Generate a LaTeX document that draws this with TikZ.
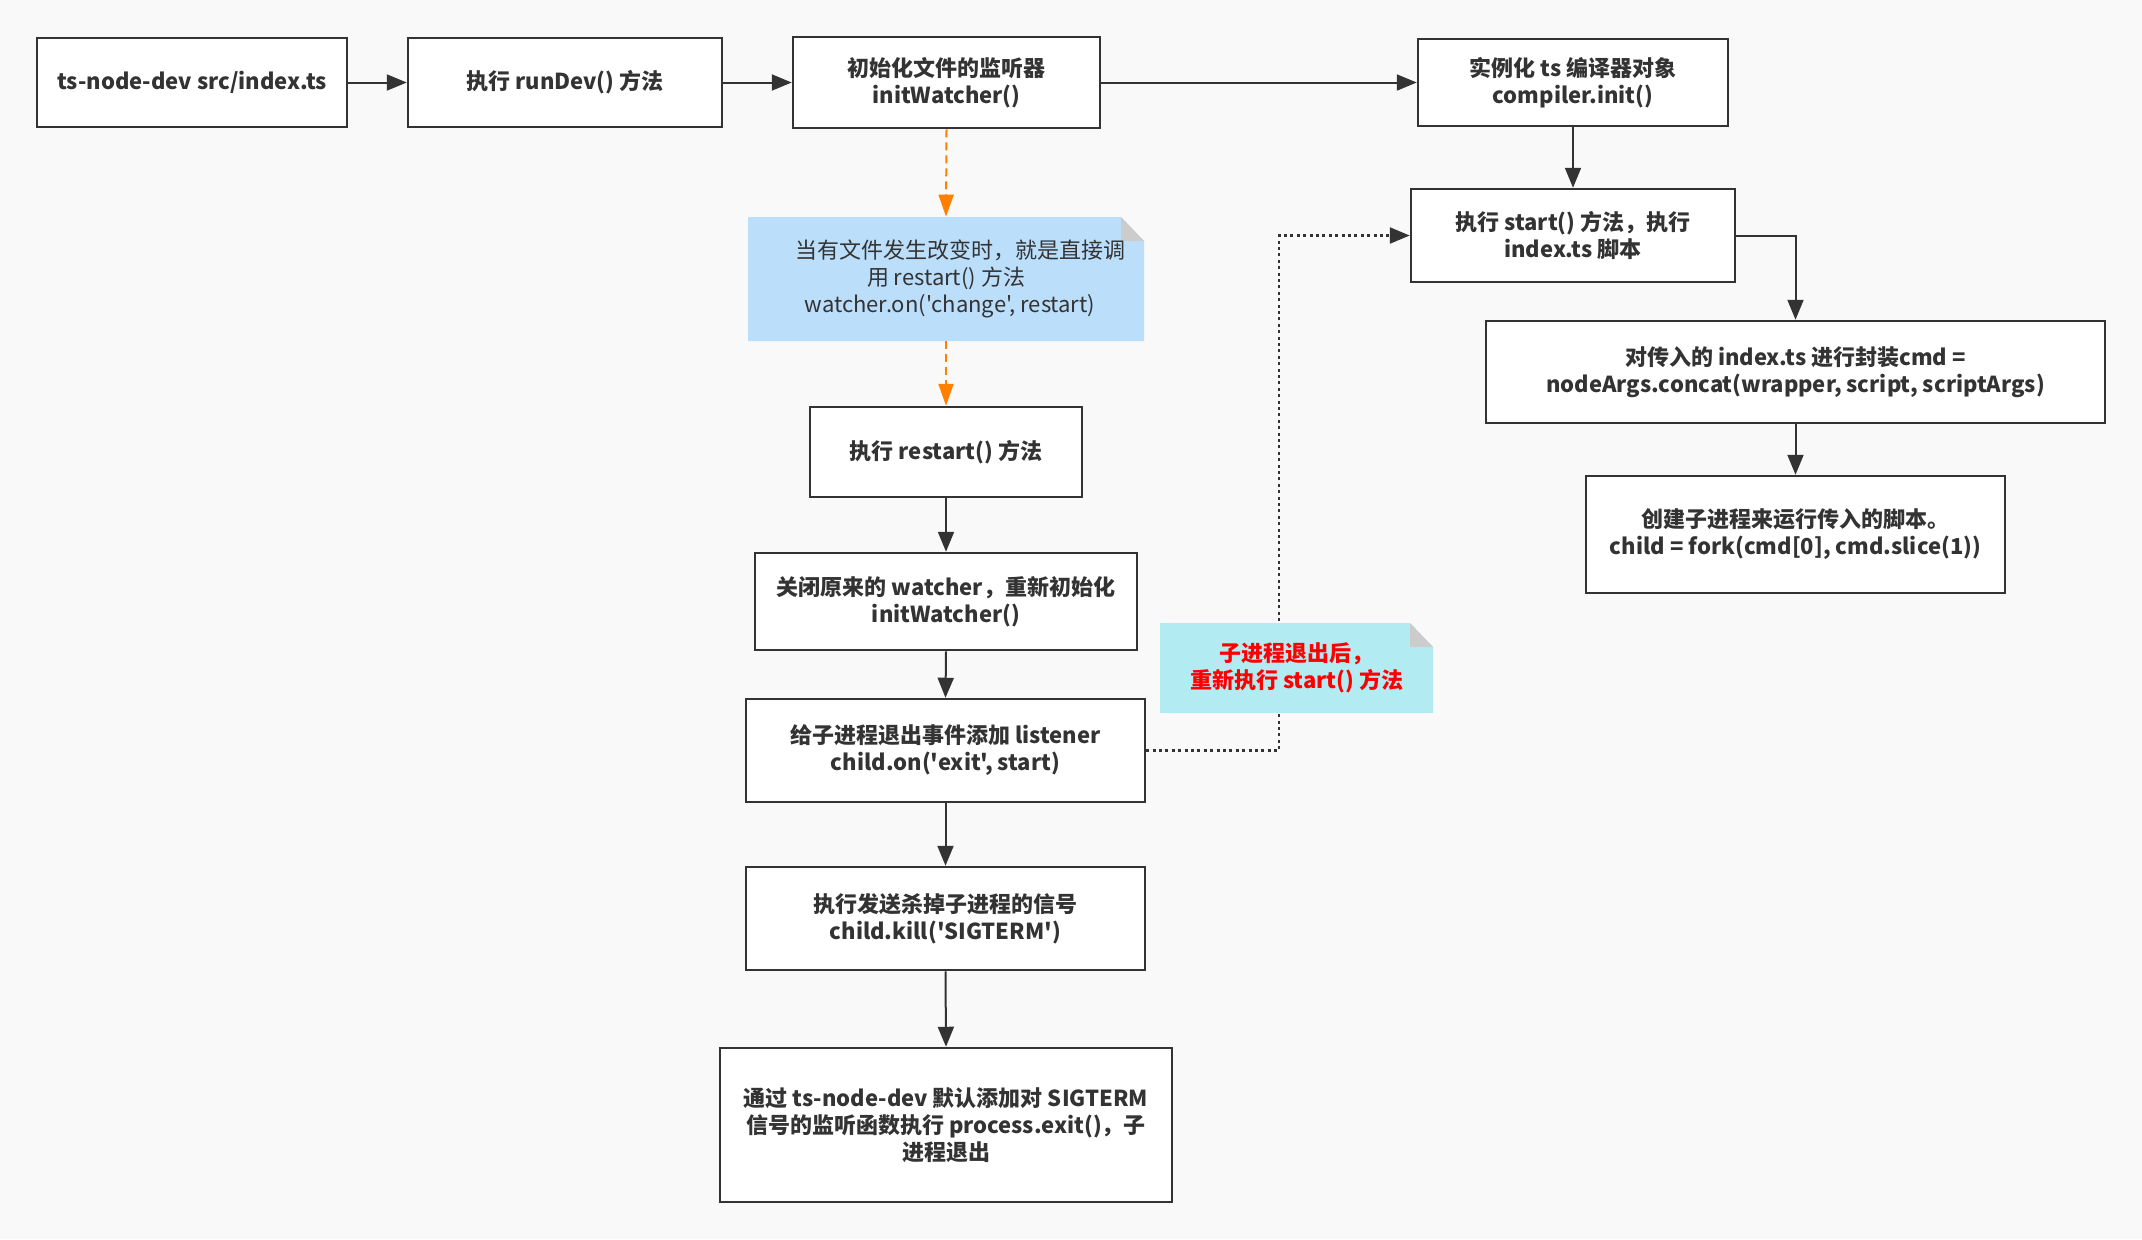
\documentclass[tikz,border=0pt]{standalone}
\usepackage{fontspec}
\setmainfont{Noto Sans CJK SC}[Ligatures=TeXOff]
\usetikzlibrary{arrows.meta}
\definecolor{bgcol}{RGB}{249,249,249}
\definecolor{inkcol}{RGB}{51,51,51}
\definecolor{noteblue}{RGB}{187,222,251}
\definecolor{notecyan}{RGB}{178,235,242}
\definecolor{foldgray}{RGB}{204,204,204}
\definecolor{dashorange}{RGB}{255,128,0}
\definecolor{alertred}{RGB}{255,0,0}

\tikzset{
  notefill/.style={path picture={
    \fill[#1] (path picture bounding box.north west) -- ([xshift=-11.5pt]path picture bounding box.north east)
      -- ([yshift=-12pt]path picture bounding box.north east) -- (path picture bounding box.south east)
      -- (path picture bounding box.south west) -- cycle;
    \fill[foldgray] ([xshift=-11.5pt]path picture bounding box.north east) -- ([yshift=-12pt]path picture bounding box.north east)
      -- ([xshift=-11.5pt,yshift=-12pt]path picture bounding box.north east) -- cycle;}}
}

\begin{document}
\begin{tikzpicture}[x=0.5pt,y=-0.5pt,>={Triangle[length=10pt,width=8pt]},
  every node/.style={font=\fontsize{11}{13.5}\selectfont,text=inkcol,align=center},
  procbox/.style={draw=inkcol,line width=1.25pt,fill=white,rectangle,font=\fontsize{11}{13.5}\selectfont\bfseries},
  notebox/.style={rectangle,inner sep=0pt,notefill=#1},
  flow/.style={->,draw=inkcol,line width=1pt},
  watchflow/.style={-{Triangle[length=11pt,width=7.5pt]},draw=dashorange,line width=1pt,dash pattern=on 4pt off 2.5pt},
  backflow/.style={->,draw=inkcol,line width=1.2pt,dash pattern=on 1.5pt off 1.7pt}]
  \useasboundingbox[fill=bgcol] (0,0) rectangle (2142,1239);

  % top row
  \node[procbox,minimum width=155pt,minimum height=44.5pt] (cmd) at (192,82.5) {ts-node-dev src/index.ts};
  \node[procbox,minimum width=157pt,minimum height=44.5pt] (rundev) at (565,82.5) {执行 runDev() 方法};
  \node[procbox,minimum width=153.5pt,minimum height=45.5pt] (watch) at (946.5,82.5) {初始化文件的监听器\\initWatcher()};
  \node[procbox,minimum width=155pt,minimum height=43.5pt] (compiler) at (1573,82.5) {实例化 ts 编译器对象\\compiler.init()};

  % right column
  \node[procbox,minimum width=162pt,minimum height=46.5pt] (start) at (1573,235.5) {执行 start() 方法，执行\\index.ts 脚本};
  \node[procbox,minimum width=309.5pt,minimum height=51pt] (wrap) at (1795.5,372) {对传入的 index.ts 进行封装cmd =\\nodeArgs.concat(wrapper, script, scriptArgs)};
  \node[procbox,minimum width=209.5pt,minimum height=58.5pt] (fork) at (1795.5,534.5) {创建子进程来运行传入的脚本。\\child = fork(cmd[0], cmd.slice(1))};

  % middle column
  \node[notebox=noteblue,minimum width=198pt,minimum height=62pt] (notechange) at (946,279) {\hspace*{14pt}当有文件发生改变时，就是直接调\\用 restart() 方法\\\hspace*{4pt}watcher.on('change', restart)};
  \node[procbox,minimum width=136pt,minimum height=45pt] (restart) at (946,452) {执行 restart() 方法};
  \node[procbox,minimum width=191pt,minimum height=48.5pt] (reinit) at (946,601.5) {关闭原来的 watcher，重新初始化\\initWatcher()};
  \node[procbox,minimum width=199.5pt,minimum height=51.5pt] (listen) at (945.5,750.5) {给子进程退出事件添加 listener\\child.on('exit', start)};
  \node[procbox,minimum width=199.5pt,minimum height=51.5pt] (kill) at (945.5,918.5) {执行发送杀掉子进程的信号\\child.kill('SIGTERM')};
  \node[procbox,minimum width=226pt,minimum height=77pt] (exitproc) at (946,1125) {通过 ts-node-dev 默认添加对 SIGTERM\\信号的监听函数执行 process.exit()，子\\进程退出};

  % connections
  \draw[flow] (cmd.east) -- (rundev.west);
  \draw[flow] (rundev.east) -- (watch.west);
  \draw[flow] (watch.east) -- (watch.east -| compiler.west);
  \draw[flow] (compiler.south) -- (start.north);
  \draw[flow] (start.east) -| (wrap.north);
  \draw[flow] (wrap.south) -- (fork.north);
  \draw[watchflow] (watch.south) -- (notechange.north);
  \draw[watchflow] (notechange.south) -- (restart.north);
  \draw[flow] (restart.south) -- (reinit.north);
  \draw[flow] (reinit.south) -- (listen.north);
  \draw[flow] (listen.south) -- (kill.north);
  \draw[flow] (kill.south) -- (exitproc.north);
  \draw[backflow] (listen.east) -- ++(133,0) |- (start.west);

  % note over the dotted return line
  \node[notebox=notecyan,minimum width=136.5pt,minimum height=45pt,text=alertred,font=\fontsize{11}{13.5}\selectfont\bfseries] (noteexit) at (1296.5,668) {子进程退出后，\\重新执行 start() 方法};
\end{tikzpicture}
\end{document}
